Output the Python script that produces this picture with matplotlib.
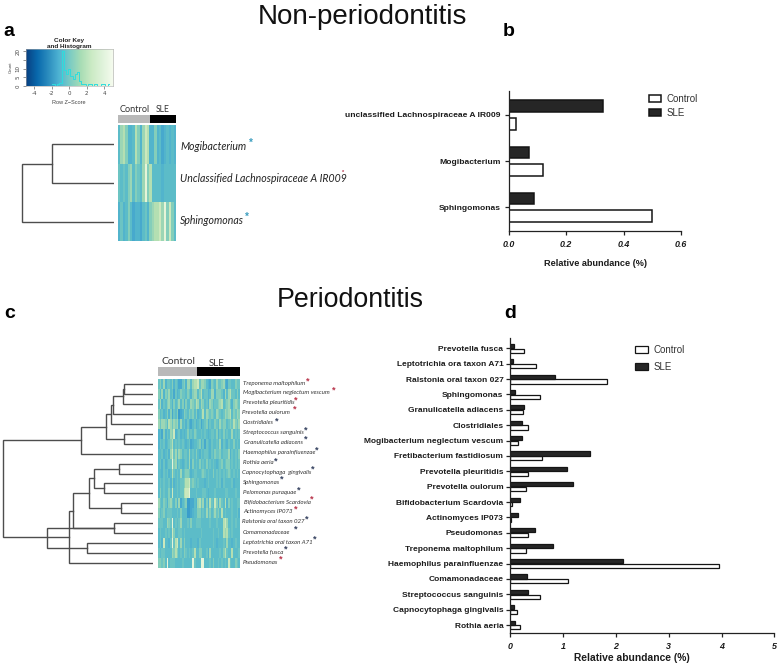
import numpy as np
import matplotlib
matplotlib.use("Agg")
import matplotlib.pyplot as plt
from matplotlib.colors import ListedColormap, BoundaryNorm

W, H = 778, 664
SANS = "Liberation Sans"
SERIF_LABEL = "Lato"

# ---------- panel b data ----------
b_taxa = ["Sphingomonas", "Mogibacterium", "unclassified Lachnospiraceae A IR009"]
b_control = [0.50, 0.12, 0.025]
b_sle = [0.09, 0.07, 0.33]
b_ticks = [0.0, 0.2, 0.4, 0.6]

# ---------- panel d data ----------
d_taxa = ["Rothia aeria", "Capnocytophaga gingivalis", "Streptococcus sanguinis", "Comamonadaceae",
          "Haemophilus parainfluenzae", "Treponema maltophilum", "Pseudomonas", "Actinomyces IP073",
          "Bifidobacterium Scardovia", "Prevotella oulorum", "Prevotella pleuritidis",
          "Fretibacterium fastidiosum", "Mogibacterium neglectum vescum", "Clostridiales",
          "Granulicatella adiacens", "Sphingomonas", "Ralstonia oral taxon 027",
          "Leptotrichia ora taxon A71", "Prevotella fusca"]
d_control = [0.18, 0.13, 0.56, 1.10, 3.95, 0.29, 0.33, 0.02, 0.03, 0.29, 0.33, 0.60, 0.15, 0.34, 0.24, 0.56, 1.83, 0.48, 0.25]
d_sle = [0.09, 0.07, 0.33, 0.32, 2.13, 0.81, 0.46, 0.14, 0.18, 1.19, 1.08, 1.50, 0.23, 0.23, 0.25, 0.08, 0.85, 0.06, 0.07]
d_ticks = [0, 1, 2, 3, 4, 5]

# ---------- panel a heatmap (levels, 0 blue .. 9 pale green) ----------
a_rows = ["Mogibacterium", "Unclassified Lachnospiraceae A IR009", "Sphingomonas"]
a_heat = [
    "3 6 7 5 2 2 3 7 5 2 6 8 7 2 2 5 2 3 1 2 3 2 3 2",
    "4 3 4 3 5 6 3 5 4 3 6 9 5 7 3 3 3 3 2 3 3 3 3 3",
    "2 4 2 3 5 3 1 2 2 1 3 4 2 5 6 7 7 8 6 9 5 8 5 3",
]
a_dend_left = [0, 3]
a_dend_right = [1, 2]
a_dend_height = [62.3, 92.3]

# ---------- panel c heatmap ----------
c_rows = ["Treponema maltophilum", "Mogibacterium neglectum vescum", "Prevotella pleuritidis",
          "Prevotella oulorum", "Clostridiales", "Streptococcus sanguinis", "Granulicatella adiacens",
          "Haemophilus parainfluenzae", "Rothia aeria", "Capnocytophaga  gingivalis", "Sphingomonas",
          "Pelomonas puraquae", "Bifidobacterium Scardovia", "Actinomyces IP073",
          "Ralstonia oral taxon 027", "Comamonadaceae", "Leptotrichia oral taxon A71",
          "Prevotella fusca", "Pseudomonas"]
c_heat = [
    "45362443 52431145 26636778 46653215 43644562 14433544",
    "53625463 41423544 35425663 57344236 62555426 36744353",
    "46243564 25346352 53365476 36534265 34456734 56425654",
    "53423525 14350125 43545352 34736545 43654346 56735465",
    "64665376 46562634 24213423 41345243 35436455 34547546",
    "23152436 58234232 35343543 34343234 43524353 43363434",
    "24342345 73434343 23412334 52414324 33436243 24335343",
    "33423426 84636534 43634353 24344324 35445344 46243435",
    "34242344 95624323 43625343 53435343 43234534 55343434",
    "33243423 74343634 55423443 34543433 53434343 45434343",
    "34343342 52343445 77845434 33323433 33434243 33342333",
    "35343353 83343447 88933343 33443233 34333334 43333433",
    "64354256 43526134 50011326 74625274 38526437 25343344",
    "53453444 33343533 30012335 53436353 46453734 33343342",
    "44433654 93434633 34353344 43333343 33433378 63343433",
    "34334343 85334434 33333333 34333333 43343376 74343333",
    "34283324 94783635 33323332 43333333 43233343 63323433",
    "43443333 65753435 43434733 55334263 33334357 43373334",
    "55453934 44333343 33339433 39933343 53343434 38433543",
]
c_dend_left = [0, 19, 20, 21, 5, 22, 24, 8, 10, 26, 12, 28, 14, 30, 16, 32, 31, 25]
c_dend_right = [1, 2, 3, 4, 6, 23, 7, 9, 11, 27, 13, 29, 15, 31, 17, 18, 33, 34]
c_dend_height = [29.0, 29.7, 39.7, 41.7, 28.7, 47.0, 72.0, 34.0, 48.7, 58.4, 31.7, 64.0, 39.0, 79.7, 65.7, 84.0, 105.7, 150.0]

# ---------- colour key histogram ----------
hist_z = [-2.0, -1.75, -1.5, -1.25, -1.0, -0.75, -0.5, -0.25, 0.0, 0.25, 0.5, 0.75, 1.0, 1.25, 1.5, 1.75, 2.0, 2.25, 2.5, 2.75, 3.0, 3.25, 3.5, 3.75, 4.0, 4.25, 4.5]
hist_count = [1, 1, 0, 1, 2, 20, 9, 7, 10, 6, 4, 7, 8, 3, 1, 1, 0, 1, 1, 0, 1, 0, 0, 1, 1, 0, 1]

heat_colors = ["#3a9dcb", "#47a9cd", "#52b4cc", "#5cbcc8", "#6cc4c3", "#84ceba",
               "#9cd6b5", "#b4dfb2", "#cce8bd", "#e6f4d8"]
heat_cmap = ListedColormap(heat_colors)
heat_norm = BoundaryNorm(np.arange(-0.5, 10.5), 10)


def px_axes(fig, left, top, right, bottom, **kw):
    return fig.add_axes([left / W, 1 - bottom / H, (right - left) / W, (bottom - top) / H], **kw)


def px_text(fig, x, y, s, **kw):
    kw.setdefault("va", "center")
    kw.setdefault("ha", "left")
    return fig.text(x / W, 1 - y / H, s, **kw)


def parse_heat(rows):
    return np.array([[int(c) for c in r.replace(" ", "")] for r in rows])


def heatmap(fig, box, rows):
    ax = px_axes(fig, *box)
    ax.imshow(parse_heat(rows), aspect="auto", cmap=heat_cmap, norm=heat_norm, interpolation="nearest")
    ax.axis("off")


def column_bar(fig, left, mid, right, top, bottom):
    ax = px_axes(fig, left, top, right, bottom)
    ax.set_xlim(left, right)
    ax.set_ylim(0, 1)
    ax.barh(0.5, mid - left, left=left, height=1, color="#b9b9b9", lw=0)
    ax.barh(0.5, right - mid, left=mid, height=1, color="black", lw=0)
    ax.axis("off")


def dendrogram(fig, box, left_ids, right_ids, heights, n):
    ax = px_axes(fig, *box)
    ax.set_xlim(box[2] - box[0], 0)
    ax.set_ylim(n, 0)
    ax.axis("off")
    pos = {i: (0.0, i + 0.5) for i in range(n)}
    for k, (a, b, h) in enumerate(zip(left_ids, right_ids, heights)):
        xa, ya = pos[a]
        xb, yb = pos[b]
        ax.plot([xa, h, h, xb], [ya, ya, yb, yb], color="#4d4d4d", lw=1.0, solid_joinstyle="miter")
        pos[n + k] = (h, (ya + yb) / 2)


def bar_panel(fig, box, taxa, control, sle, xmax, ticks, tickfmt, off, height, ylim, lab_size, tick_size, lw, tick_pad):
    ax = px_axes(fig, *box)
    y = np.arange(len(taxa))
    ax.barh(y - off, control, height=height, facecolor="white", edgecolor="#151515", lw=lw, label="Control")
    ax.barh(y + off, sle, height=height, facecolor="#262626", edgecolor="#151515", lw=lw, label="SLE")
    ax.set_xlim(0, xmax)
    ax.set_ylim(*ylim)
    ax.set_yticks(y, taxa)
    ax.set_xticks(ticks, [tickfmt.format(t) for t in ticks])
    for s in ("top", "right"):
        ax.spines[s].set_visible(False)
    for s in ("left", "bottom"):
        ax.spines[s].set_linewidth(0.9)
        ax.spines[s].set_color("#222222")
    ax.tick_params(axis="y", length=3, width=0.9, pad=tick_pad, color="#222222")
    ax.tick_params(axis="x", length=3, width=0.9, pad=3.5, color="#222222")
    for t in ax.get_yticklabels():
        t.set(fontfamily=SANS, fontweight="bold", fontsize=lab_size, color="#1c1c1c")
    for t in ax.get_xticklabels():
        t.set(fontfamily=SANS, fontweight="bold", fontstyle="italic", fontsize=tick_size, color="#1c1c1c")
    return ax


def legend(ax, fig, x, y, spacing, size):
    ax.legend(loc="upper left", bbox_to_anchor=(x / W, 1 - y / H), bbox_transform=fig.transFigure,
              frameon=False, borderpad=0, borderaxespad=0, labelspacing=spacing, handlelength=1.3,
              handleheight=0.65, handletextpad=0.6, prop={"family": SANS, "size": size}, labelcolor="#333333")


fig = plt.figure(figsize=(W / 100, H / 100), dpi=100, facecolor="white")

# headings
px_text(fig, 362, 17, "Non-periodontitis", fontsize=20, family=SANS, ha="center", color="#111111")
px_text(fig, 350, 300, "Periodontitis", fontsize=19.3, family=SANS, ha="center", color="#111111")
for (x, y, s) in [(3, 32, "a"), (503, 32, "b"), (4, 313, "c"), (504, 313, "d")]:
    px_text(fig, x, y, s, fontsize=14, family=SANS, fontweight="bold", color="black")

# ---- colour key ----
key = px_axes(fig, 25.5, 48.5, 113, 86)
key.imshow(np.linspace(0, 1, 256)[None, :], extent=(-5, 5, 0, 21.5), aspect="auto", cmap="GnBu_r")
key.step(hist_z, hist_count, where="mid", color="#2fdcdc", lw=0.7)
key.set_xlim(-5, 5)
key.set_ylim(0, 21.5)
key.set_xticks([-4, -2, 0, 2, 4], ["-4", "-2", "0", "2", "4"])
key.set_yticks([0, 5, 10, 15, 20], ["0", "5", "10", "", "20"])
key.tick_params(length=2, width=0.4, labelsize=4, pad=1.5, colors="#444444")
for t in key.get_yticklabels():
    t.set(rotation=90, va="center")
for s in key.spines.values():
    s.set_linewidth(0.4)
    s.set_color("#aaaaaa")
px_text(fig, 69, 43.5, "Color Key\nand Histogram", fontsize=4.6, family=SANS, fontweight="bold", ha="center", linespacing=1.1, color="#222222")
px_text(fig, 69, 102, "Row Z\u2212Score", fontsize=4, family=SANS, ha="center", color="#444444")
px_text(fig, 11, 67, "Count", fontsize=3.2, family=SANS, ha="center", rotation=90, color="#444444")

# ---- panel a ----
heatmap(fig, (118, 125, 176, 241), a_heat)
column_bar(fig, 118, 150, 176, 115, 122.5)
px_text(fig, 135, 109, "Control", fontsize=6.6, family=SERIF_LABEL, ha="center", color="#333333")
px_text(fig, 163, 109, "SLE", fontsize=6.2, family=SERIF_LABEL, ha="center", color="#333333")
dendrogram(fig, (0, 125, 114, 241), a_dend_left, a_dend_right, a_dend_height, len(a_rows))
for name, y in zip(a_rows, [146, 179, 221]):
    px_text(fig, 180, y, name, fontsize=7.6, family=SERIF_LABEL, fontstyle="italic", color="#222222")
for x, y, col in [(250.5, 143, "#3e9fc0"), (247, 217, "#3e9fc0"), (343.5, 172, "#b8334a")]:
    px_text(fig, x, y, "*", fontsize=7 if x < 300 else 4, family=SANS, fontweight="bold", ha="center", color=col)

# ---- panel b ----
b_ax = bar_panel(fig, (508.5, 91, 681, 230.7), b_taxa, b_control, b_sle, 0.6, b_ticks, "{:.1f}",
                 0.19, 0.25, (-0.507, 2.52), 6.1, 6.4, 1.1, 2.5)
legend(b_ax, fig, 648.5, 94, 0.42, 7)
px_text(fig, 595, 263, "Relative abundance (%)", fontsize=6.6, family=SANS, fontweight="bold", ha="center", color="#1c1c1c")

# ---- panel c ----
heatmap(fig, (158, 379, 240, 568), c_heat)
column_bar(fig, 158, 197, 240, 367, 376)
px_text(fig, 178, 362, "Control", fontsize=7.4, family=SERIF_LABEL, ha="center", color="#333333")
px_text(fig, 217, 363, "SLE", fontsize=7, family=SERIF_LABEL, ha="center", color="#333333")
dendrogram(fig, (0, 379, 152.7, 568), c_dend_left, c_dend_right, c_dend_height, len(c_rows))
c_label_x = [242.7, 243, 242.7, 242, 243, 243, 243.7, 243, 243, 242, 243, 243, 243.7, 243.7, 242, 242.7, 243.3, 242.7, 242.7]
c_label_y = [383.7, 392.3, 402, 412, 422, 432, 442, 452.7, 462.7, 472.7, 482.3, 492.3, 502.3, 511.7, 521.3, 532, 542.3, 552.3, 562.3]
c_star_x = [308, 334, 296, 294.7, 276.7, 306, 305.7, 316.7, 275.7, 312.3, 282, 298.7, 312, 295.5, 307, 295.3, 314.7, 285.7, 281]
c_star_y = [380.7, 390, 399.7, 409.3, 421, 430, 439, 450, 460.7, 468.7, 479, 490, 499, 509, 518.7, 529.3, 539, 549.3, 559]
c_star_red = [1, 1, 1, 1, 0, 0, 0, 0, 0, 0, 0, 0, 1, 1, 0, 0, 0, 0, 1]
for name, x, y, sx, sy, red in zip(c_rows, c_label_x, c_label_y, c_star_x, c_star_y, c_star_red):
    px_text(fig, x, y, name, fontsize=4.4, family=SERIF_LABEL, fontstyle="italic", color="#333333")
    px_text(fig, sx, sy, "*", fontsize=6.5, family=SANS, fontweight="bold", ha="center",
            color="#b8334a" if red else "#33405e")

# ---- panel d ----
d_ax = bar_panel(fig, (510.3, 338, 774.3, 632.7), d_taxa, d_control, d_sle, 5, d_ticks, "{:d}",
                 0.155, 0.27, (-0.50, 18.67), 6.0, 6.4, 0.9, 2)
legend(d_ax, fig, 635, 345, 0.72, 7)
px_text(fig, 632, 658, "Relative abundance (%)", fontsize=7.4, family=SANS, fontweight="bold", ha="center", color="#1c1c1c")

fig.savefig("out.png", dpi=100, facecolor="white")
